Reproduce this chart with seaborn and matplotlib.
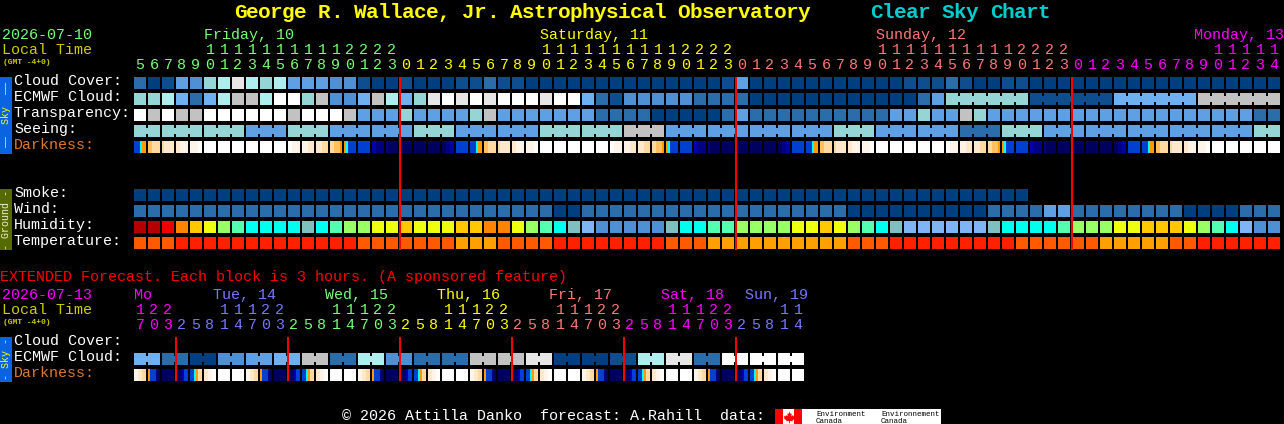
import numpy as np
import matplotlib
matplotlib.use('Agg')
import matplotlib.pyplot as plt
from matplotlib.colors import ListedColormap
from matplotlib.patches import Rectangle
import seaborn as sns

# sky colours, one letter per block
sky_colors = {'a': '#003f7f', 'b': '#0f4e8e', 'c': '#2b6cab', 'd': '#4f8fd3', 'e': '#5f9fe3',
              'f': '#6fb0f0', 'g': '#95d5d5', 'h': '#aeeeee', 'i': '#c2c2c2', 'j': '#e6e6e6',
              'k': '#ffffff'}
humidity_colors = {'A': '#b40000', 'B': '#ee0000', 'C': '#ff8500', 'D': '#ffc800', 'E': '#eeff10',
                   'F': '#99ff66', 'G': '#55ffb0', 'H': '#00ffee', 'I': '#80bfbf', 'J': '#7fb5f5',
                   'K': '#4f8fd3'}
temp_colors = {'P': '#ff2000', 'Q': '#ff5a00', 'R': '#ffa000'}
dark_colors = ['#00005f', '#000080', '#0000a8', '#0040d0', '#0060e0', '#00ffff',
               '#ff9a00', '#ffc060', '#ffd9a0', '#ffe8cc', '#fff4e8', '#ffffff']

cloud_cover = ('cabedghjhg' 'heeeddbaab' 'aaabbcbbaa' 'aaaaaaaaaa' 'aabeaaaaaa'
               'aaaaabbbcb' 'aabbaaaaaa' 'aaaaaaaaaaaa')
ecmwf_cloud = ('gghfcfhiih' 'kkgiddfihf' 'gjkjkjkkkj' 'kkfcbddddd' 'ccccaaaaaa'
               'aaaaaacegg' 'ggggbbbbbb' 'ffffffiiiiii')
ecmwf_blocks = [1] * 58 + [6] * 4
transparency = ('kikiikkkkk' 'kikkkieeeg' 'eeeegieeee' 'eeeccccaaa' 'aacecccccc'
                'cccceegeei' 'geeeeeeeee' 'eeeeeeeeeecc')
seeing_values = 'gggegeegeeggieeeegeecgeeeeeg'
seeing_blocks = [2] + [3] * 26 + [2]
smoke = ('aaaaaaaaaa' 'aaaaaaaaaa' 'aaaaaaaaaa' 'aaaaaaaaaa' 'aaaaaaaaaa'
         'aaaaaaaaaa' 'aaaa')
wind = ('cccccccccc' 'cccccccccc' 'cccccccccc' 'aacccccccc' 'cccccccccc'
        'caaaaaaaaa' 'acccceeccc' 'cccccaaaaccc')
humidity = ('AABCDEFGHH' 'HHIHGFFEED' 'EEEDDCCEFG' 'HIJKKKKKIH' 'HGGFFFFEED'
            'EFGHIJJJJJ' 'JIHHHHGFFF' 'EEDDDEFGHJKK')
temperature = ('QQQPPPPPPP' 'PPPPPPQQQQ' 'QQQRRRQQQQ' 'PPPPPPPPQQ' 'QRRRRRRRRR'
               'RQQQPPPPPP' 'PPPQQQQQQR' 'RRRRQQPPPPPP')

# darkness changes inside a block, so every block has six levels (hex index in dark_colors)
darkness = [
    '333566', '778888', '899999', '99aaaa', 'aaaabb', 'bbbbbb', 'bbbbbb', 'bbbbbb', 'bbbbbb', 'bbbbbb',
    'bbbbbb', 'bbaaaa', 'aaa999', '999888', '887776', '653333', '333333', '221111', '100000', '000000',
    '000000', '000000', '001122', '333333',
    '333566', '778888', '899999', '99aaaa', 'aaaabb', 'bbbbbb', 'bbbbbb', 'bbbbbb', 'bbbbbb', 'bbbbbb',
    'bbaaaa', 'aaa999', '999888', '887776', '653333', '333333', '221111', '100000', '000000', '000000',
    '000000', '000000', '001122', '333333',
    '333566', '778888', '899999', '99aaaa', 'aaaabb', 'bbbbbb', 'bbbbbb', 'bbbbbb', 'bbbbbb', 'bbbbbb',
    'bbaaaa', 'aaa999', '999888', '887776', '653333', '333333', '221111', '100000', '000000', '000000',
    '000000', '000000', '001122', '333333',
    '333566', '778888', '899999', '99aaaa', 'aaaabb', 'bbbbbb', 'bbbbbb', 'bbbbbb', 'bbbbbb', 'bbbbbb',
]

# extended forecast, 3 hour blocks
ext_ecmwf_values = 'fcadefichdcciijaabhjckkk'
ext_ecmwf_blocks = [2] * 24
ext_darkness = [
    'aa9988', '633310', '000000', '000233', '335688', '99aabb', 'bbbbbb', 'bbbbbb',
    'aa9988', '633310', '000000', '000233', '335688', '99aabb', 'bbbbbb', 'bbbbbb',
    'aa9988', '633310', '000000', '000233', '335688', '99aabb', 'bbbbbb', 'bbbbbb',
    'aa9988', '633310', '000000', '000233', '335688', '99aabb', 'bbbbbb', 'bbbbbb',
    'aa9988', '633310', '000000', '000233', '335688', '99aabb', 'bbbbbb', 'bbbbbb',
    'aa9988', '633310', '000000', '000233', '335688', '99aabb', 'bbbbbb', 'bbbbbb',
]

hours = [5, 6, 7, 8, 9, 10, 11, 12, 13, 14, 15, 16, 17, 18, 19, 20, 21, 22, 23,
         0, 1, 2, 3, 4, 5, 6, 7, 8, 9, 10, 11, 12, 13, 14, 15, 16, 17, 18, 19, 20, 21, 22, 23,
         0, 1, 2, 3, 4, 5, 6, 7, 8, 9, 10, 11, 12, 13, 14, 15, 16, 17, 18, 19, 20, 21, 22, 23,
         0, 1, 2, 3, 4, 5, 6, 7, 8, 9, 10, 11, 12, 13, 14]
ext_hours = [17, 20, 23] + [2, 5, 8, 11, 14, 17, 20, 23] * 5 + [2, 5, 8, 11, 14]

GREEN, YELLOW, SALMON, MAGENTA, PERI = '#77ff77', '#ffff00', '#ff7777', '#ff00ff', '#7777ff'
day_names = ['Friday, 10', 'Saturday, 11', 'Sunday, 12', 'Monday, 13']
day_x = [204, 540, 876, 1194]
day_colors = [GREEN, YELLOW, SALMON, MAGENTA]
day_starts = [0, 19, 43, 67]
ext_day_names = ['Mo', 'Tue, 14', 'Wed, 15', 'Thu, 16', 'Fri, 17', 'Sat, 18', 'Sun, 19']
ext_day_x = [134, 213, 325, 437, 549, 661, 745]
ext_day_colors = [MAGENTA, PERI, GREEN, YELLOW, SALMON, MAGENTA, PERI]
ext_day_starts = [0, 3, 11, 19, 27, 35, 43]
midnights = [19, 43, 67]
ext_midnights = [3, 11, 19, 27, 35, 43]

W, H = 1284, 424
X0, PITCH = 134, 14
MONO = 'Liberation Mono'

sns.set_theme(style='white')
plt.rcParams['font.family'] = [MONO, 'DejaVu Sans Mono']
fig = plt.figure(figsize=(W / 100, H / 100), dpi=100, facecolor='black')


def letter_slots(letters, palette):
    keys = list(palette)
    return [[keys.index(ch)] * 6 for ch in letters]


def draw_row(top, slots, colors, blocks=None):
    # one block is 6 slots + 1 gap slot (2px each), 4 rows of 3px so joined blocks get a notch
    n = len(slots)
    grid = np.full((4, 7 * n), np.nan)
    for i, s in enumerate(slots):
        grid[:, 7 * i:7 * i + 6] = s
    if blocks is not None:
        pos = 0
        for size in blocks:
            for i in range(pos, pos + size - 1):
                grid[1:3, 7 * i + 6] = slots[i][-1]
            pos += size
    ax = fig.add_axes([X0 / W, 1 - (top + 12) / H, PITCH * n / W, 12 / H])
    sns.heatmap(grid, cmap=ListedColormap(colors), vmin=-0.5, vmax=len(colors) - 0.5, cbar=False,
                xticklabels=False, yticklabels=False, antialiased=False, ax=ax)
    ax.axis('off')


sky = list(sky_colors.values())
hum = list(humidity_colors.values())
tmp = list(temp_colors.values())
dark = [[int(c, 16) for c in s] for s in darkness]
ext_dark = [[int(c, 16) for c in s] for s in ext_darkness]

draw_row(77, letter_slots(cloud_cover, sky_colors), sky)
draw_row(93, letter_slots(ecmwf_cloud, sky_colors), sky, ecmwf_blocks)
draw_row(109, letter_slots(transparency, sky_colors), sky)
seeing = ''.join(v * b for v, b in zip(seeing_values, seeing_blocks))
draw_row(125, letter_slots(seeing, sky_colors), sky, seeing_blocks)
draw_row(141, dark, dark_colors)
draw_row(189, letter_slots(smoke, sky_colors), sky)
draw_row(205, letter_slots(wind, sky_colors), sky)
draw_row(221, letter_slots(humidity, humidity_colors), hum)
draw_row(237, letter_slots(temperature, temp_colors), tmp)

ext_ecmwf = ''.join(v * b for v, b in zip(ext_ecmwf_values, ext_ecmwf_blocks))
draw_row(353, letter_slots(ext_ecmwf, sky_colors), sky, ext_ecmwf_blocks)
draw_row(369, ext_dark, dark_colors)

# page axes in pixel coordinates for the text and the overlays
page = fig.add_axes([0, 0, 1, 1], zorder=5)
page.set_xlim(0, W)
page.set_ylim(H, 0)
page.axis('off')


def label(x, y, s, color='white', px=15, **kw):
    # 1px up, the glyphs land a row too low otherwise
    page.text(x, y - 1, s, color=color, fontsize=px * 0.72, va='baseline', **kw)


def title_text(x, s, color):
    # a bit taller than the 12px pitch would give, so place the glyphs one by one
    for i, ch in enumerate(s):
        label(x + 12 * i + 6, 19, ch, color, 21, fontweight='bold', ha='center')


title_text(234, 'George R. Wallace, Jr. Astrophysical Observatory', '#ffff00')
title_text(870, 'Clear Sky Chart', '#00cccc')

label(2, 40, '2026-07-10', GREEN)
label(2, 55, 'Local Time', '#cccc00')
label(3, 65, '(GMT -4+0)', '#cccc00', 8, fontweight='bold')
label(0, 282, 'EXTENDED Forecast. Each block is 3 hours. (A sponsored feature)', '#ff0000')
label(2, 300, '2026-07-13', MAGENTA)
label(2, 315, 'Local Time', '#cccc00')
label(3, 325, '(GMT -4+0)', '#cccc00', 8, fontweight='bold')
label(342, 421, '\u00a9 2026 Attilla Danko  forecast: A.Rahill  data:')

for name, x, c in zip(day_names, day_x, day_colors):
    label(x, 40, name, c)
for name, x, c in zip(ext_day_names, ext_day_x, ext_day_colors):
    label(x, 300, name, c)


def hour_labels(values, starts, colors, tens_y, unit_y):
    for i, h in enumerate(values):
        c = colors[np.searchsorted(starts, i, side='right') - 1]
        xc = X0 + PITCH * i + 6
        if h >= 10:
            label(xc, tens_y, str(h // 10), c, ha='center')
        label(xc, unit_y, str(h % 10), c, ha='center')


hour_labels(hours, day_starts, day_colors, 55, 70)
hour_labels(ext_hours, ext_day_starts, ext_day_colors, 315, 330)

row_labels = [('Cloud Cover:', 86, 'white'), ('ECMWF Cloud:', 102, 'white'), ('Transparency:', 118, 'white'),
              ('Seeing:', 134, 'white'), ('Darkness:', 150, '#d97a30'), ('Smoke:', 198, 'white'),
              ('Wind:', 214, 'white'), ('Humidity:', 230, 'white'), ('Temperature:', 246, 'white'),
              ('Cloud Cover:', 346, 'white'), ('ECMWF Cloud:', 362, 'white'), ('Darkness:', 378, '#d97a30')]
for text, y, c in row_labels:
    label(14, y, text, c)

# side bars
for top, bottom, fill, text, c in [(77, 154, '#0a63e0', '\u2014\u2014  Sky  \u2014\u2014', '#ffff00'),
                                   (189, 250, '#556b00', '- Ground -', '#f0f0d8'),
                                   (337, 382, '#0a63e0', '- Sky -', '#ffff00')]:
    page.add_patch(Rectangle((0, top), 12, bottom - top, facecolor=fill, edgecolor='none'))
    page.text(6, (top + bottom) / 2, text, color=c, fontsize=7.2, rotation=90, ha='center', va='center')

# midnight lines
page.vlines([X0 + PITCH * m for m in midnights], 77, 250, color='#ff0000', lw=1.44)
page.vlines([X0 + PITCH * m for m in ext_midnights], 337, 381, color='#ff0000', lw=1.44)

# Environment Canada logo
leaf = [(0, 1), (0.2, 0.6), (0.4, 0.7), (0.3, 0.2), (0.6, 0.4), (0.7, 0.2), (1, 0.25), (0.85, -0.1),
        (0.95, -0.2), (0.5, -0.5), (0.55, -0.65), (0.08, -0.6), (0.08, -1), (-0.08, -1), (-0.08, -0.6),
        (-0.55, -0.65), (-0.5, -0.5), (-0.95, -0.2), (-0.85, -0.1), (-1, 0.25), (-0.7, 0.2), (-0.6, 0.4),
        (-0.3, 0.2), (-0.4, 0.7), (-0.2, 0.6)]
page.add_patch(Rectangle((775, 409), 166, 15, facecolor='white', edgecolor='none'))
page.add_patch(Rectangle((775, 409), 8, 15, facecolor='#ff0000', edgecolor='none'))
page.add_patch(Rectangle((794, 409), 8, 15, facecolor='#ff0000', edgecolor='none'))
page.scatter([788.5], [416.5], marker=leaf, s=70, color='#ff0000', linewidths=0)
for x, line1 in [(816, 'Environment'), (881, 'Environnement')]:
    page.text(x, 416, line1, color='black', fontsize=5.4, va='baseline')
    page.text(x, 423, 'Canada', color='black', fontsize=5.4, va='baseline')

fig.savefig('out.png', dpi=100, facecolor='black')
